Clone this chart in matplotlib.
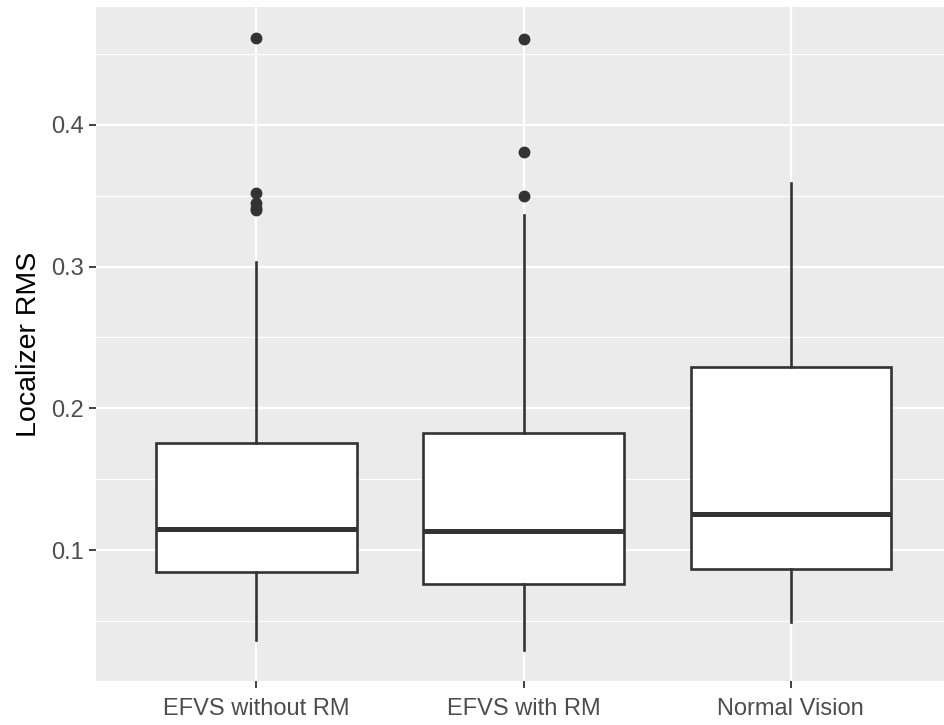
import matplotlib.pyplot as plt
import numpy as np

plt.rcParams['font.family'] = ['Liberation Sans', 'DejaVu Sans']

# data: box statistics
categories = ['EFVS without RM', 'EFVS with RM', 'Normal Vision']
whisker_low = [0.0365, 0.0294, 0.0492]
q1 = [0.0845, 0.0760, 0.0866]
median = [0.1148, 0.1134, 0.1254]
q3 = [0.1755, 0.1826, 0.2290]
whisker_high = [0.3035, 0.3360, 0.3586]
outliers = [
    [0.3400, 0.3416, 0.3450, 0.3520, 0.4614],
    [0.3500, 0.3810, 0.4604],
    [],
]
yticks = [0.1, 0.2, 0.3, 0.4]
yminor = [0.05, 0.15, 0.25, 0.35, 0.45]

stats = []
for i, name in enumerate(categories):
    stats.append({
        'label': name,
        'whislo': whisker_low[i], 'q1': q1[i], 'med': median[i],
        'q3': q3[i], 'whishi': whisker_high[i], 'fliers': outliers[i],
    })

fig = plt.figure(figsize=(9.45, 7.25), dpi=100)
ax = fig.add_axes([96 / 945, 1 - 681 / 725, 1 - 96 / 945, (681 - 7) / 725])
ax.set_facecolor('#EBEBEB')

dark = '#333333'
ax.bxp(stats, positions=[1, 2, 3], widths=0.75, patch_artist=True,
       showcaps=False,
       boxprops=dict(facecolor='white', edgecolor=dark, linewidth=1.9),
       medianprops=dict(color=dark, linewidth=3.6, solid_capstyle='butt'),
       whiskerprops=dict(color=dark, linewidth=1.9),
       flierprops=dict(marker='o', markerfacecolor=dark, markeredgecolor=dark,
                       markersize=7.5, linestyle='none'),
       zorder=3)

ax.set_xlim(0.4, 3.577)
ax.set_ylim(0.0078, 0.483)
ax.set_yticks(yticks)
ax.set_yticklabels([f'{t:.1f}' for t in yticks])
ax.set_yticks(yminor, minor=True)
ax.set_xticks([1, 2, 3])
ax.set_xticklabels(categories)

ax.grid(True, which='major', color='white', linewidth=1.6, zorder=0)
ax.grid(True, which='minor', axis='y', color='white', linewidth=0.8, zorder=0)
ax.set_axisbelow(True)
for s in ax.spines.values():
    s.set_visible(False)

ax.tick_params(axis='both', which='major', length=5, width=1.3, color=dark,
               labelcolor='#4D4D4D', labelsize=17)
ax.tick_params(axis='y', which='major', pad=4)
ax.tick_params(axis='x', which='major', pad=7)
ax.tick_params(axis='both', which='minor', length=0)
ax.set_ylabel('Localizer RMS', fontsize=20.5, color='black', labelpad=6)

plt.savefig('out.png', dpi=100)
